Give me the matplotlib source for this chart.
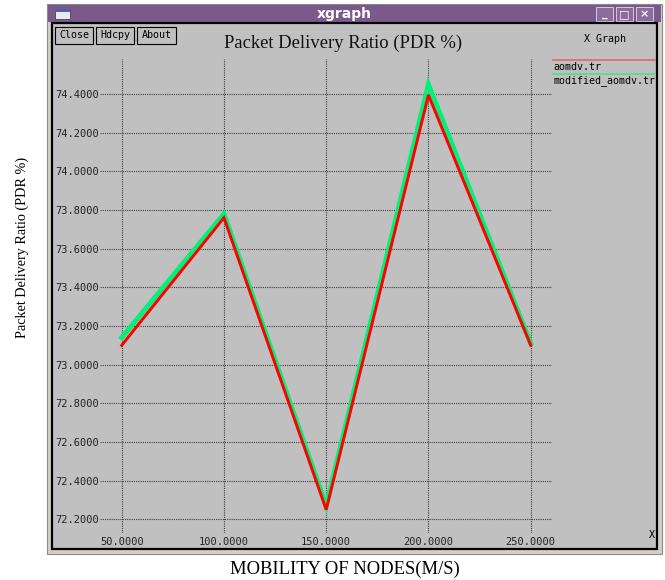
import matplotlib
matplotlib.use("Agg")
import matplotlib.pyplot as plt
from matplotlib.patches import Rectangle
from matplotlib.lines import Line2D

# ---- data ----
mobility = [50, 100, 150, 200, 250]
aomdv = [73.10, 73.76, 72.25, 74.395, 73.10]
modified_aomdv = [73.14, 73.78, 72.27, 74.45, 73.11]
x_ticks = [50, 100, 150, 200, 250]
y_ticks = [72.2, 72.4, 72.6, 72.8, 73.0, 73.2, 73.4, 73.6, 73.8, 74.0, 74.2, 74.4]
series_names = ["aomdv.tr", "modified_aomdv.tr"]

W, H = 665, 580
fig = plt.figure(figsize=(W / 100, H / 100), dpi=100)
fig.patch.set_facecolor("white")

def fx(px):
    return px / W

def fy(py):
    return 1 - py / H

def rect(x0, y0, x1, y1, **kw):
    fig.patches.append(Rectangle((fx(x0), fy(y1)), fx(x1) - fx(x0), fy(y0) - fy(y1),
                                 transform=fig.transFigure, zorder=-10, **kw))

# window frame
rect(47, 4, 662, 554, facecolor="#d4d0c8", edgecolor="#8a8a8a", linewidth=0.8)
# title bar
rect(48, 5, 661, 22, facecolor="#7b5a8b", edgecolor="none")
fig.text(fx(344), fy(14), "xgraph", color="white", fontsize=10, fontweight="bold",
         family="DejaVu Sans", ha="center", va="center")
# window icon
rect(55, 9, 70, 19, facecolor="#e8e8f0", edgecolor="#404060", linewidth=0.6)
rect(55, 9, 70, 11.5, facecolor="#5060a0", edgecolor="none")
# title bar buttons
for bx, sym in [(596, "_"), (616, "□"), (636, "×")]:
    rect(bx, 7, bx + 17, 21, facecolor="#8d6c9c", edgecolor="#d8c8e0", linewidth=0.7)
    fig.text(fx(bx + 8.5), fy(14), sym, color="white", fontsize=8, fontweight="bold",
             ha="center", va="center")
# grey client area with black border
rect(52, 23, 657, 549, facecolor="#c0c0c0", edgecolor="black", linewidth=1.6)

# buttons
for (bx0, bx1, label) in [(55, 93, "Close"), (96, 134, "Hdcpy"), (137, 176, "About")]:
    rect(bx0, 27, bx1, 44, facecolor="#c0c0c0", edgecolor="black", linewidth=0.8)
    fig.text(fx((bx0 + bx1) / 2), fy(35.5), label, fontsize=7.2, family="DejaVu Sans Mono",
             ha="center", va="center", color="black")

# plot title inside window
fig.text(fx(343), fy(43), "Packet Delivery Ratio (PDR %)", fontsize=13.4,
         family="Liberation Serif", ha="center", va="center", color="#111111")
fig.text(fx(605), fy(39), "X Graph", fontsize=7.2, family="DejaVu Sans Mono",
         ha="center", va="center", color="black")
fig.text(fx(652), fy(535), "X", fontsize=7.2, family="DejaVu Sans Mono",
         ha="center", va="center", color="black")

# outer labels
fig.text(fx(22), fy(247), "Packet Delivery Ratio (PDR %)", fontsize=10.2,
         family="Liberation Serif", rotation=90, ha="center", va="center", color="black")
fig.text(fx(345), fy(569), "MOBILITY OF NODES(M/S)", fontsize=13.4,
         family="Liberation Serif", ha="center", va="center", color="black")

# axes
ax_l, ax_r, ax_t, ax_b = 100, 552, 59, 533
ax = fig.add_axes([fx(ax_l), fy(ax_b), fx(ax_r) - fx(ax_l), fy(ax_t) - fy(ax_b)])
ax.set_zorder(2)
ax.set_facecolor("none")
for s in ax.spines.values():
    s.set_visible(False)

px_per_x = (530.7 - 121.7) / 200.0
px_per_y = (519.3 - 94.0) / 2.2
ax.set_xlim(50 + (ax_l - 121.7) / px_per_x, 50 + (ax_r - 121.7) / px_per_x)
ax.set_ylim(72.2 - (ax_b - 519.3) / px_per_y, 74.4 + (94.0 - ax_t) / px_per_y)

ax.set_xticks(x_ticks)
ax.set_xticklabels([f"{v:.4f}" for v in x_ticks])
ax.set_yticks(y_ticks)
ax.set_yticklabels([f"{v:.4f}" for v in y_ticks])
ax.tick_params(axis="both", length=0, labelsize=7.5, colors="#222222")
ax.tick_params(axis="y", pad=1)
ax.tick_params(axis="x", pad=3)
for lab in ax.get_xticklabels() + ax.get_yticklabels():
    lab.set_family("DejaVu Sans Mono")
ax.grid(True, color="#404040", linestyle=(0, (1, 1)), linewidth=0.8)
ax.set_axisbelow(True)

ax.plot(mobility, modified_aomdv, color="#00f07a", linewidth=3.5, solid_joinstyle="miter",
        zorder=3)
ax.plot(mobility, aomdv, color="#ff0000", linewidth=2.1, solid_joinstyle="miter", zorder=4)

# legend (xgraph style)
fig.lines.append(Line2D([fx(553), fx(655)], [fy(60), fy(60)], color="#e06868", linewidth=1.2,
                        transform=fig.transFigure))
fig.text(fx(553), fy(66.5), series_names[0], fontsize=7.2, family="DejaVu Sans Mono",
         ha="left", va="center", color="black")
fig.lines.append(Line2D([fx(553), fx(655)], [fy(74), fy(74)], color="#48e08e", linewidth=1.2,
                        transform=fig.transFigure))
fig.text(fx(553), fy(81), series_names[1], fontsize=7.2, family="DejaVu Sans Mono",
         ha="left", va="center", color="black")

fig.savefig("out.png", dpi=100, facecolor=fig.get_facecolor())
